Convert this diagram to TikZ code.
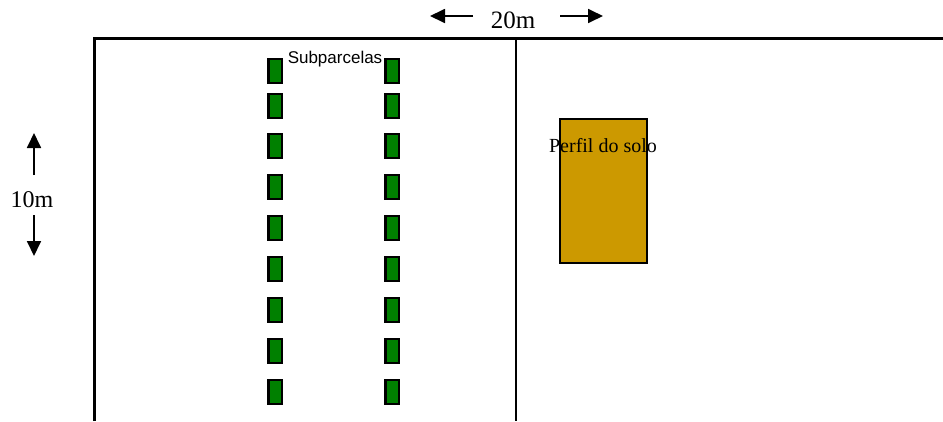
\documentclass[tikz,border=0pt]{standalone}
\usepackage{fontspec}
\setmainfont{Liberation Serif}
\setsansfont{Liberation Sans}
\usetikzlibrary{arrows.meta}

\definecolor{verdeparcela}{HTML}{008000}
\definecolor{corsolo}{HTML}{CC9900}

\tikzset{
  subparcela/.style={draw=black, line width=2.5pt, fill=verdeparcela,
    minimum width=13.5pt, minimum height=24pt, inner sep=0pt},
  medida/.style={line width=1.8pt, -{Triangle[length=15pt,width=14pt]}},
  rotulo/.style={inner sep=0pt, anchor=base},
}

\begin{document}
\begin{tikzpicture}[x=1pt, y=-1pt]
    \useasboundingbox (0,0) rectangle (943,421);

    % Limites da parcela
    \draw[line width=3pt] (94,421) -- (94,38) -- (943,38);
    \draw[line width=2.5pt] (516,38) -- (516,421);

    % Cota horizontal 20m
    \node[rotulo] (larg) at (513,28) {\fontsize{25}{25}\selectfont 20m};
    \coordinate (larg-e1) at (473,16);
    \coordinate (larg-e2) at (430,16);
    \coordinate (larg-d1) at (560,16);
    \coordinate (larg-d2) at (603,16);
    \draw[medida] (larg-e1) -- (larg-e2);
    \draw[medida] (larg-d1) -- (larg-d2);

    % Cota vertical 10m
    \node[rotulo] (alt) at (32,207) {\fontsize{24}{24}\selectfont 10m};
    \coordinate (alt-c1) at (34,175);
    \coordinate (alt-c2) at (34,133);
    \coordinate (alt-b1) at (34,215);
    \coordinate (alt-b2) at (34,256);
    \draw[medida] (alt-c1) -- (alt-c2);
    \draw[medida] (alt-b1) -- (alt-b2);

    % Subparcelas (duas linhas)
    \foreach \i/\y in {1/71,2/106,3/146,4/187,5/228,6/269,7/310,8/351,9/392} {
        \node[subparcela] (sp-e\i) at (275,\y) {};
        \node[subparcela] (sp-d\i) at (392,\y) {};
    }
    \node[rotulo] (subp) at (335,63) {\sffamily\fontsize{17}{17}\selectfont Subparcelas};

    % Perfil do solo
    \node[draw=black, line width=2pt, fill=corsolo, minimum width=87pt,
          minimum height=144pt, inner sep=0pt] (perfil) at (603.5,191) {};
    \node[rotulo] (perfil-txt) at (603,152) {\fontsize{20}{20}\selectfont Perfil do solo};
\end{tikzpicture}
\end{document}
